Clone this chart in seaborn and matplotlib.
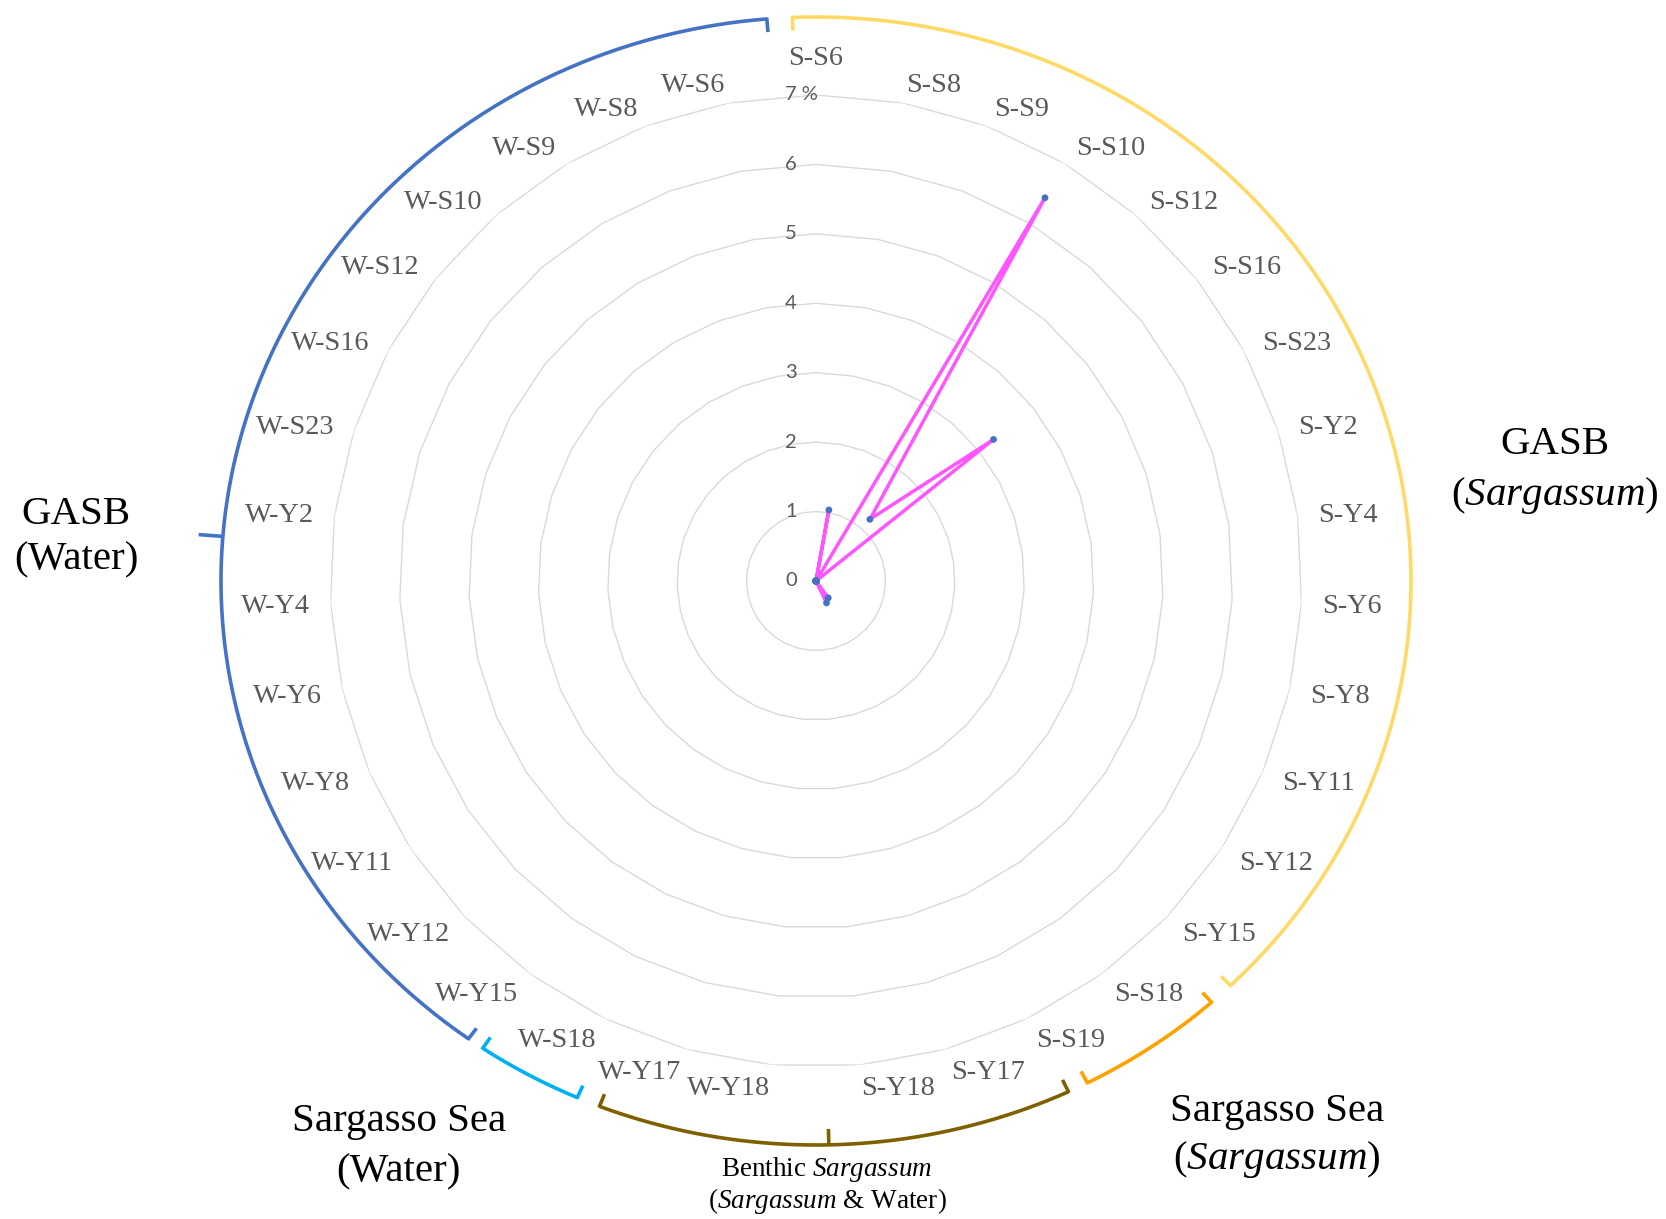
import matplotlib
matplotlib.use("Agg")
import matplotlib.pyplot as plt
import matplotlib.transforms as mtransforms
import numpy as np
import pandas as pd
import seaborn as sns

# sample order, clockwise from the top
CATEGORIES = [
    "S-S6", "S-S8", "S-S9", "S-S10", "S-S12", "S-S16", "S-S23", "S-Y2", "S-Y4",
    "S-Y6", "S-Y8", "S-Y11", "S-Y12", "S-Y15", "S-S18", "S-S19", "S-Y17", "S-Y18",
    "W-Y18", "W-Y17", "W-S18", "W-Y15", "W-Y12", "W-Y11", "W-Y8", "W-Y6", "W-Y4",
    "W-Y2", "W-S23", "W-S16", "W-S12", "W-S10", "W-S9", "W-S8", "W-S6",
]
VALUES = [
    0.0, 1.04, 0.0, 6.43, 1.18, 3.27, 0.0, 0.0, 0.0,
    0.0, 0.0, 0.0, 0.0, 0.0, 0.30, 0.35, 0.0, 0.0,
    0.0, 0.0, 0.0, 0.0, 0.0, 0.0, 0.0, 0.0, 0.0,
    0.0, 0.0, 0.0, 0.0, 0.0, 0.0, 0.0, 0.0,
]
RADIAL_TICKS = [0, 1, 2, 3, 4, 5, 6, 7]
RADIAL_TICK_LABELS = ["0", "1", "2", "3", "4", "5", "6", "7 %"]

# group brackets: (start deg, end deg, colour, mid tick deg, mid tick length)
BRACKETS = [
    (217.2, 355.0, "#4472C4", 274.3, 0.35),
    (-2.4, 134.3, "#FFD966", None, 0),
    (136.8, 151.6, "#FFA200", None, 0),
    (153.7, 202.4, "#7F6000", 178.7, -0.23),
    (204.8, 215.5, "#00B0F0", None, 0),
]

# group labels: lines and their centre positions in pixels (from top-left)
GROUP_LABELS = [
    (["GASB", r"($\mathit{Sargassum}$)"], [(1555, 445), (1555, 495)], 29.5),
    (["GASB", "(Water)"], [(76, 514), (76, 560)], 29.5),
    (["Sargasso Sea", "(Water)"], [(399, 1122), (398, 1172)], 29.5),
    (["Sargasso Sea", r"($\mathit{Sargassum}$)"], [(1277, 1112), (1277, 1160)], 29.5),
    ([r"Benthic $\mathit{Sargassum}$", r"($\mathit{Sargassum}$ & Water)"],
     [(827, 1169), (827, 1201)], 19.5),
]

W, H = 1666, 1219
CX, CY, R7 = 816, 581, 486  # polar centre and radius of the 7 ring in pixels
A_ELL, B_ELL = 595 / (R7 / 7), 564 / (R7 / 7)
GRID_COLOR = "#D9D9D9"
TEXT_GRAY = "#595959"

sns.set_style("white")
plt.rcParams["font.family"] = ["Liberation Serif", "DejaVu Serif"]
plt.rcParams["mathtext.fontset"] = "custom"
plt.rcParams["mathtext.rm"] = "Liberation Serif"
plt.rcParams["mathtext.it"] = "Liberation Serif:italic"


def ellipse_r(t):
    return 1.0 / np.sqrt((np.sin(t) / A_ELL) ** 2 + (np.cos(t) / B_ELL) ** 2)


def main():
    fig = plt.figure(figsize=(W / 100, H / 100), dpi=100)
    rect = [(CX - R7) / W, 1 - (CY + R7) / H, 2 * R7 / W, 2 * R7 / H]
    ax = fig.add_axes(rect, projection="polar")
    ax.set_theta_zero_location("N")
    ax.set_theta_direction(-1)
    ax.set_ylim(0, 7)
    ax.grid(False)
    ax.set_xticks([])
    ax.set_yticks([])
    ax.spines["polar"].set_visible(False)

    n = len(CATEGORIES)
    theta = np.arange(n) * 2 * np.pi / n
    theta_closed = np.append(theta, 2 * np.pi)

    # polygon grid rings
    for r in RADIAL_TICKS[1:]:
        ax.plot(theta_closed, [r] * (n + 1), color=GRID_COLOR, lw=1.0, zorder=0)

    df = pd.DataFrame({"theta": theta_closed, "value": VALUES + VALUES[:1]})
    sns.lineplot(data=df, x="theta", y="value", ax=ax, sort=False, estimator=None,
                 color="#FF55FF", linewidth=2.5, zorder=3)
    sns.scatterplot(data=df.iloc[:-1], x="theta", y="value", ax=ax, color="#4472C4",
                    s=24, edgecolor="none", zorder=4)
    ax.set_xlabel("")
    ax.set_ylabel("")

    # radial tick labels
    offset = mtransforms.offset_copy(ax.transData, fig=fig, x=-31, y=0, units="dots")
    for r, lab in zip(RADIAL_TICKS, RADIAL_TICK_LABELS):
        ax.text(0, r, lab, transform=offset, ha="left", va="center", fontsize=14.5,
                color=TEXT_GRAY, family=["Lato", "DejaVu Sans"])

    # category labels
    for t, lab in zip(theta, CATEGORIES):
        s = np.sin(t)
        ha = "left" if s > 0.01 else ("right" if s < -0.01 else "center")
        top = np.cos(t) > 0.999
        va = "bottom" if top else "center_baseline"
        ax.text(t, 7.34 if top else 7.3, lab, ha=ha, va=va, fontsize=20.3,
                color=TEXT_GRAY)

    # group brackets
    for t0, t1, color, tm, mlen in BRACKETS:
        tt = np.radians(np.linspace(t0, t1, 300))
        ax.plot(tt, ellipse_r(tt), color=color, lw=2.6, clip_on=False,
                solid_capstyle="butt")
        for te in (t0, t1):
            te = np.radians(te)
            re = ellipse_r(te)
            ax.plot([te, te], [re + 0.02, re - 0.19], color=color, lw=2.6,
                    clip_on=False, solid_capstyle="butt")
        if tm is not None:
            tm = np.radians(tm)
            rm = ellipse_r(tm)
            ax.plot([tm, tm], [rm, rm + mlen], color=color, lw=2.6, clip_on=False,
                    solid_capstyle="butt")

    for lines, positions, size in GROUP_LABELS:
        for line, (px, py) in zip(lines, positions):
            fig.text(px / W, 1 - py / H, line, ha="center", va="center",
                     fontsize=size, color="black")

    fig.savefig("out.png", dpi=100)
    plt.close(fig)


if __name__ == "__main__":
    main()
